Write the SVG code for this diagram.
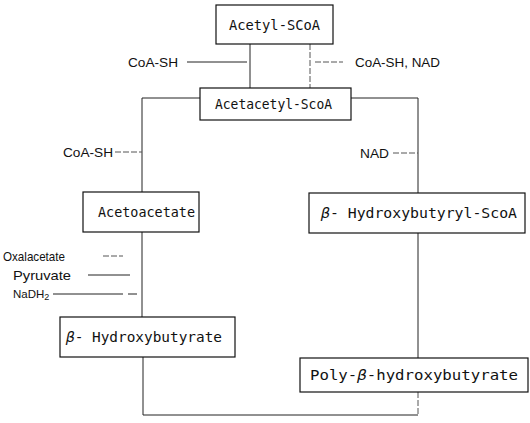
<svg xmlns="http://www.w3.org/2000/svg" width="530" height="423" viewBox="0 0 530 423">
<style>
.box{fill:#fff;stroke:#111;stroke-width:1.2}
.t{font-family:"DejaVu Sans Mono","Liberation Mono",monospace;font-size:14px;fill:#111}
.s{font-family:"Liberation Sans","DejaVu Sans",sans-serif;font-size:13.5px;fill:#111}
.sub{font-size:9px}
.ln{fill:none;stroke:#222;stroke-width:1}
.dl{fill:none;stroke:#555;stroke-width:1;stroke-dasharray:6 2}
</style>
<rect width="530" height="423" fill="#fff"/>
<g id="connectors">
<path class="ln" d="M250,44 V88"/>
<path class="dl" d="M310,44 V88"/>
<path class="ln" d="M187,62 H247"/>
<path class="dl" d="M315,62 H343"/>
<path class="ln" d="M200,98 H142 V192"/>
<path class="ln" d="M351,98 H418 V193"/>
<path class="dl" d="M115,152 H142"/>
<path class="dl" d="M393,153 H418"/>
<path class="ln" d="M142,232 V317"/>
<path class="dl" d="M103,256 H123"/>
<path class="ln" d="M88,275 H130"/>
<path class="ln" d="M53,294 H123 M128,294 H137"/>
<path class="ln" d="M418,233 V358"/>
<path class="ln" d="M143,357 V415 H418"/>
<path class="dl" d="M418,392 V415"/>
</g>
<g id="labels">
<text class="s" x="128" y="67" textLength="50" lengthAdjust="spacingAndGlyphs">CoA-SH</text>
<text class="s" x="355" y="67" textLength="85" lengthAdjust="spacingAndGlyphs">CoA-SH, NAD</text>
<text class="s" x="63" y="157" textLength="50" lengthAdjust="spacingAndGlyphs">CoA-SH</text>
<text class="s" x="360" y="158" textLength="29" lengthAdjust="spacingAndGlyphs">NAD</text>
<text class="s" x="3" y="261" textLength="62" lengthAdjust="spacingAndGlyphs">Oxalacetate</text>
<text class="s" x="13" y="280" textLength="58" lengthAdjust="spacingAndGlyphs">Pyruvate</text>
<text class="s" x="13" y="298" style="font-size:11.5px">NaDH<tspan class="sub" dy="2">2</tspan></text>
</g>
<g id="acetyl-scoa">
<rect class="box" x="216" y="5" width="117" height="39"/>
<text class="t" x="229" y="30" textLength="91" lengthAdjust="spacingAndGlyphs">Acetyl-SCoA</text>
</g>
<g id="acetacetyl-scoa">
<rect class="box" x="200" y="88" width="151" height="32"/>
<text class="t" x="215" y="109" textLength="117" lengthAdjust="spacingAndGlyphs">Acetacetyl-ScoA</text>
</g>
<g id="acetoacetate">
<rect class="box" x="83" y="192" width="116" height="40"/>
<text class="t" x="98" y="217" textLength="97" lengthAdjust="spacingAndGlyphs">Acetoacetate</text>
</g>
<g id="hydroxybutyryl-scoa">
<rect class="box" x="309" y="193" width="216" height="40"/>
<text class="t" x="321" y="218" textLength="196" lengthAdjust="spacingAndGlyphs"><tspan font-style="italic">β</tspan>- Hydroxybutyryl-ScoA</text>
</g>
<g id="hydroxybutyrate">
<rect class="box" x="60" y="317" width="175" height="40"/>
<text class="t" x="66" y="342" textLength="156" lengthAdjust="spacingAndGlyphs"><tspan font-style="italic">β</tspan>- Hydroxybutyrate</text>
</g>
<g id="poly-hydroxybutyrate">
<rect class="box" x="300" y="358" width="228" height="34"/>
<text class="t" x="310" y="380" textLength="208" lengthAdjust="spacingAndGlyphs">Poly-<tspan font-style="italic">β</tspan>-hydroxybutyrate</text>
</g>
</svg>
